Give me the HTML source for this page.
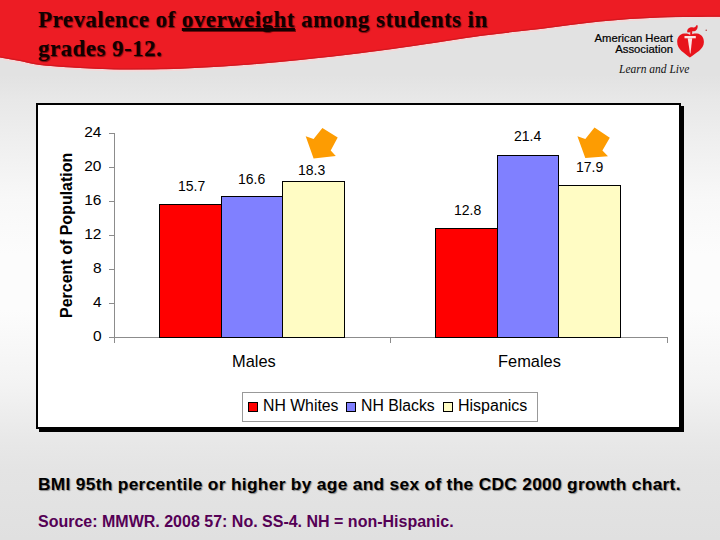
<!DOCTYPE html>
<html><head><meta charset="utf-8">
<style>
html,body{margin:0;padding:0;}
body{width:720px;height:540px;position:relative;overflow:hidden;
background:linear-gradient(to bottom,#e2e2e2 0px,#e2e2e2 75px,#e8e8e8 100px,#ececec 125px,#f1f1f1 155px,#f8f8f8 200px,#fcfcfc 255px,#fcfcfc 310px,#f3f3f3 385px,#e8e8e8 440px,#e4e4e4 470px,#e0e0e0 540px);
font-family:"Liberation Sans",sans-serif;}
.abs{position:absolute;white-space:nowrap;}
#title{left:38px;top:4.5px;font-family:"Liberation Serif",serif;font-weight:bold;font-size:23px;line-height:29.5px;letter-spacing:0.45px;color:#120000;
text-shadow:1px 1px 1px rgba(60,0,0,0.7);}
#title u{text-decoration-thickness:2.5px;text-underline-offset:1px;text-decoration-skip-ink:none;}
#chart{left:36px;top:103px;width:641px;height:322px;border:2px solid #000;background:#fff;box-shadow:3px 3px 0 #000;}
.t{position:absolute;white-space:nowrap;color:#000;}
#bmi{left:38px;top:474px;font-weight:bold;font-size:17.3px;letter-spacing:0.33px;color:#000;text-shadow:1px 1px 1px #888;}
#src{left:38px;top:513px;font-size:16px;font-weight:bold;color:#550055;}
</style></head>
<body>
<svg class="abs" style="left:0;top:0" width="720" height="540" viewBox="0 0 720 540">
  <path d="M720,16.7 C706.7,16.9 680.0,16.7 660.0,17.5 C640.0,18.3 620.0,19.6 600.0,21.5 C580.0,23.4 560.0,26.6 540.0,29.0 C520.0,31.4 500.0,33.3 480.0,36.0 C460.0,38.7 440.0,42.1 420.0,45.0 C400.0,47.9 380.0,50.8 360.0,53.3 C340.0,55.8 320.0,58.0 300.0,60.0 C280.0,62.0 260.0,63.8 240.0,65.3 C220.0,66.8 200.0,68.0 180.0,68.7 C160.0,69.4 136.7,69.6 120.0,69.5 C103.3,69.4 93.3,68.8 80.0,68.0 C66.7,67.2 50.0,66.2 40.0,65.0 C30.0,63.8 26.7,62.2 20.0,61.0 C13.3,59.8 6.7,58.7 0.0,57.5" fill="none" stroke="#f6d8d8" stroke-width="1.6" transform="translate(0,1.2)"/>
  <path d="M0,0 H720 V16.7 C706.7,16.9 680.0,16.7 660.0,17.5 C640.0,18.3 620.0,19.6 600.0,21.5 C580.0,23.4 560.0,26.6 540.0,29.0 C520.0,31.4 500.0,33.3 480.0,36.0 C460.0,38.7 440.0,42.1 420.0,45.0 C400.0,47.9 380.0,50.8 360.0,53.3 C340.0,55.8 320.0,58.0 300.0,60.0 C280.0,62.0 260.0,63.8 240.0,65.3 C220.0,66.8 200.0,68.0 180.0,68.7 C160.0,69.4 136.7,69.6 120.0,69.5 C103.3,69.4 93.3,68.8 80.0,68.0 C66.7,67.2 50.0,66.2 40.0,65.0 C30.0,63.8 26.7,62.2 20.0,61.0 C13.3,59.8 6.7,58.7 0.0,57.5 Z" fill="#ed1c24"/>
  <path d="M720,16.7 C706.7,16.9 680.0,16.7 660.0,17.5 C640.0,18.3 620.0,19.6 600.0,21.5 C580.0,23.4 560.0,26.6 540.0,29.0 C520.0,31.4 500.0,33.3 480.0,36.0 C460.0,38.7 440.0,42.1 420.0,45.0 C400.0,47.9 380.0,50.8 360.0,53.3 C340.0,55.8 320.0,58.0 300.0,60.0 C280.0,62.0 260.0,63.8 240.0,65.3 C220.0,66.8 200.0,68.0 180.0,68.7 C160.0,69.4 136.7,69.6 120.0,69.5 C103.3,69.4 93.3,68.8 80.0,68.0 C66.7,67.2 50.0,66.2 40.0,65.0 C30.0,63.8 26.7,62.2 20.0,61.0 C13.3,59.8 6.7,58.7 0.0,57.5" fill="none" stroke="#d41820" stroke-width="1.2" transform="translate(0,-0.6)"/>
</svg>
<div id="title" class="abs">Prevalence of <u>overweight</u> among students in<br>grades 9-12.</div>

<!-- AHA logo -->
<div class="abs" style="left:594.5px;top:32.5px;font-size:11.3px;line-height:11.3px;color:#000;-webkit-text-stroke:0.2px #000;text-align:right;">American Heart<br>Association</div>
<div class="abs" style="left:619px;top:63px;font-family:'Liberation Serif',serif;font-style:italic;font-size:11.5px;color:#111;">Learn and Live</div>
<svg class="abs" style="left:674px;top:22px" width="40" height="40" viewBox="0 0 40 40">
  <path d="M16.5,13.2 C15,11.6 12.5,11.2 10,11.5 C5.5,12 3.2,15.5 3.2,20 C3.2,27.5 10.5,31 15.9,35.6 C21.5,31 29.9,27.5 29.9,20 C29.9,15.5 27.5,12 23,11.5 C20.5,11.2 18,11.6 16.5,13.2 Z" fill="#e8141c"/>
  <rect x="10.5" y="14" width="11.3" height="2.3" fill="#fce4e4"/>
  <polygon points="13.7,16.3 18.2,16.3 16.5,31.6 16.0,31.6" fill="#fce4e4"/>
  <path d="M13.2,10.2 C12.9,7 15.5,5 19,5.4 C20.8,5.7 21.8,5 22.6,3 L23.7,3.6 C23.9,7.8 21.6,9.7 18.6,9.3 C17,9.1 15.9,9.7 15.5,10.6 Z" fill="#e8141c"/>
  <rect x="16.2" y="8.8" width="2" height="5.2" fill="#e8141c"/>
  <circle cx="32.2" cy="8.2" r="0.7" fill="#a33"/>
</svg>

<!-- chart -->
<div id="chart" class="abs"></div>
<svg class="abs" style="left:0;top:0" width="720" height="540" viewBox="0 0 720 540">
  <g stroke="#8c8c8c" stroke-width="1" shape-rendering="crispEdges">
    <line x1="114.5" y1="133" x2="114.5" y2="343"/>
    <line x1="109" y1="133.5" x2="114" y2="133.5"/>
    <line x1="109" y1="167.5" x2="114" y2="167.5"/>
    <line x1="109" y1="201.5" x2="114" y2="201.5"/>
    <line x1="109" y1="235.5" x2="114" y2="235.5"/>
    <line x1="109" y1="269.5" x2="114" y2="269.5"/>
    <line x1="109" y1="303.5" x2="114" y2="303.5"/>
    <line x1="109" y1="337.5" x2="667" y2="337.5"/>
    <line x1="390.5" y1="337" x2="390.5" y2="343"/>
    <line x1="667.5" y1="337" x2="667.5" y2="343"/>
  </g>
  <g stroke="#000" stroke-width="1" shape-rendering="crispEdges">
    <rect x="159.5" y="204.5" width="62" height="133" fill="#ff0000"/>
    <rect x="221.5" y="196.5" width="61" height="141" fill="#8080ff"/>
    <rect x="282.5" y="181.5" width="62" height="156" fill="#fffcc4"/>
    <rect x="435.5" y="228.5" width="62" height="109" fill="#ff0000"/>
    <rect x="497.5" y="155.5" width="61" height="182" fill="#8080ff"/>
    <rect x="558.5" y="185.5" width="62" height="152" fill="#fffcc4"/>
  </g>
  <polygon points="322.4,127.9 337.7,137.6 330.7,150.6 335.8,156.1 313.6,158.4 305.7,136.2 313.6,139" fill="#fd9c02"/>
  <polygon points="594.5,127.5 609.8,137.7 602.4,150.6 608,156.2 585.3,158.1 577.4,136.3 585.3,139.1" fill="#fd9c02"/>
</svg>
<div class="t" style="left:0;top:123px;width:101.5px;text-align:right;font-size:15.5px;">24</div>
<div class="t" style="left:0;top:157px;width:101.5px;text-align:right;font-size:15.5px;">20</div>
<div class="t" style="left:0;top:191px;width:101.5px;text-align:right;font-size:15.5px;">16</div>
<div class="t" style="left:0;top:225px;width:101.5px;text-align:right;font-size:15.5px;">12</div>
<div class="t" style="left:0;top:259px;width:101.5px;text-align:right;font-size:15.5px;">8</div>
<div class="t" style="left:0;top:293px;width:101.5px;text-align:right;font-size:15.5px;">4</div>
<div class="t" style="left:0;top:327px;width:101.5px;text-align:right;font-size:15.5px;">0</div>
<div class="t" style="left:58px;top:318px;font-size:16px;font-weight:bold;transform:rotate(-90deg);transform-origin:0 0;">Percent of Population</div>

<div class="t" style="left:178px;top:178px;font-size:14px;">15.7</div>
<div class="t" style="left:238px;top:171px;font-size:14px;">16.6</div>
<div class="t" style="left:298px;top:162px;font-size:14px;">18.3</div>
<div class="t" style="left:454px;top:202px;font-size:14px;">12.8</div>
<div class="t" style="left:514px;top:128px;font-size:14px;">21.4</div>
<div class="t" style="left:576px;top:159px;font-size:14px;">17.9</div>

<div class="t" style="left:232px;top:352px;font-size:16.4px;">Males</div>
<div class="t" style="left:498px;top:352px;font-size:16.4px;">Females</div>

<div class="abs" style="left:242px;top:392px;width:294px;height:28px;border:1px solid #999;background:#fff;"></div>
<div class="abs" style="left:248px;top:402px;width:8px;height:8px;border:1px solid #000;background:#f00;"></div>
<div class="t" style="left:263px;top:397px;font-size:15.8px;">NH Whites</div>
<div class="abs" style="left:346px;top:402px;width:8px;height:8px;border:1px solid #000;background:#8080ff;"></div>
<div class="t" style="left:361px;top:397px;font-size:15.8px;">NH Blacks</div>
<div class="abs" style="left:443px;top:402px;width:8px;height:8px;border:1px solid #000;background:#fffcc4;"></div>
<div class="t" style="left:458px;top:397px;font-size:16px;">Hispanics</div>

<div id="bmi" class="abs">BMI 95th percentile or higher by age and sex of the CDC 2000 growth chart.</div>
<div id="src" class="abs">Source: MMWR. 2008 57: No. SS-4. NH = non-Hispanic.</div>
</body></html>
